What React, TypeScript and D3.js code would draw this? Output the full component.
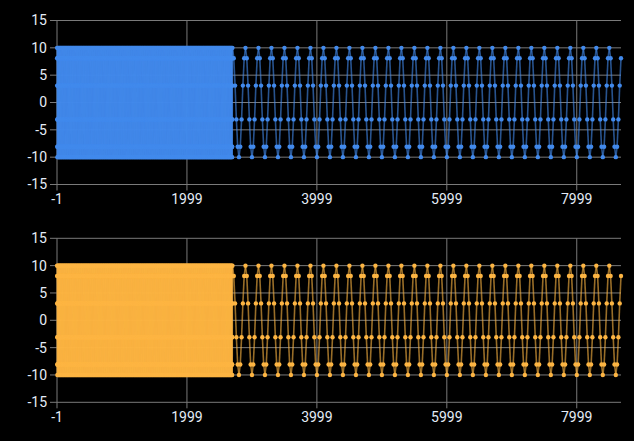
import * as d3 from "d3";

// axis ticks
const xTicks = [-1, 1999, 3999, 5999, 7999];
const yTicks = [15, 10, 5, 0, -5, -10, -15];

// one cycle of the wave (10 points per period)
const waveCycle = [10, 8.09, 3.09, -3.09, -8.09, -10, -8.09, -3.09, 3.09, 8.09];

// sampling of the series: dense block, then sparse samples
const denseFrom = 0;
const denseTo = 2700;
const denseStep = 1;
const sparseTo = 8680;
const sparseStep = 20;

const xMin = -1;
const xMax = 8680;

const seriesColors = ["#428AEC", "#FDB543"];

type Pt = [number, number];

function buildPoints(): Pt[] {
  const pts: Pt[] = [];
  let i = 0;
  for (let x = denseFrom; x < denseTo; x += denseStep) {
    pts.push([x, waveCycle[i % waveCycle.length]]);
    i++;
  }
  let j = 0;
  for (let x = denseTo; x <= sparseTo; x += sparseStep) {
    pts.push([x, waveCycle[j % waveCycle.length]]);
    j++;
  }
  return pts;
}

const points = buildPoints();

const W = 634;
const H = 441;
const left = 57;
const right = 621;
const plotH = 164;

const Panel = ({ top, color }: { top: number; color: string }) => {
  const x = d3.scaleLinear().domain([xMin, xMax]).range([left, right]);
  const y = d3.scaleLinear().domain([-15, 15]).range([top + plotH, top]);

  return (
    <g>
      {yTicks.map((t) => (
        <g key={"y" + t}>
          <line x1={left - 7} x2={right} y1={y(t)} y2={y(t)} stroke="#7a7a7a" strokeWidth={1} />
          <text x={left - 10} y={y(t)} dy="0.35em" textAnchor="end" fill="#e4ecf7" fontSize={14}>
            {t}
          </text>
        </g>
      ))}
      {xTicks.map((t) => (
        <g key={"x" + t}>
          <line x1={x(t)} x2={x(t)} y1={top} y2={top + plotH + 6} stroke="#7a7a7a" strokeWidth={1} />
          <text x={x(t)} y={top + plotH + 15} dy="0.35em" textAnchor="middle" fill="#e4ecf7" fontSize={14}>
            {t}
          </text>
        </g>
      ))}
      {/* each segment drawn on its own so overlaps build up like the original */}
      <g stroke={color} strokeWidth={1.6} strokeOpacity={0.6}>
        {points.slice(1).map((p, k) => (
          <line key={k} x1={x(points[k][0])} y1={y(points[k][1])} x2={x(p[0])} y2={y(p[1])} />
        ))}
      </g>
      <g fill={color}>
        {points.map((p, k) => (
          <circle key={k} cx={x(p[0])} cy={y(p[1])} r={2.2} />
        ))}
      </g>
    </g>
  );
};

export default function App() {
  return (
    <svg
      width={W}
      height={H}
      style={{ position: "absolute", left: 0, top: 0, fontFamily: "'Segoe UI', Roboto, 'Noto Sans', sans-serif" }}
    >
      <rect width={W} height={H} fill="#000" />
      <Panel top={20.5} color={seriesColors[0]} />
      <Panel top={238.3} color={seriesColors[1]} />
    </svg>
  );
}
